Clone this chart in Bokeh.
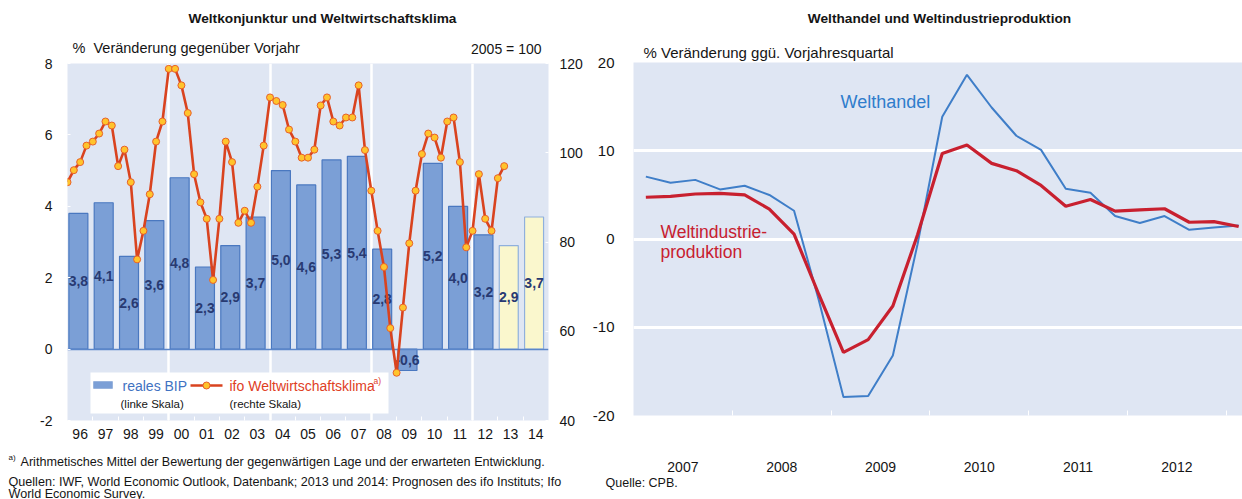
from bokeh.plotting import figure
from bokeh.models import Range1d, LinearAxis, FixedTicker, Label, BoxAnnotation, ColumnDataSource, Title
from bokeh.layouts import row, column
from bokeh.core.properties import value
from bokeh.embed import file_html
from bokeh.resources import INLINE

FONT = "Liberation Sans"
BG = "#dfe6f3"
TXT = "#151515"

# ---------------- data: left chart ----------------
jahre = ["96", "97", "98", "99", "00", "01", "02", "03", "04", "05",
         "06", "07", "08", "09", "10", "11", "12", "13", "14"]
bip = [3.8, 4.1, 2.6, 3.6, 4.8, 2.3, 2.9, 3.7, 5.0, 4.6,
       5.3, 5.4, 2.8, -0.6, 5.2, 4.0, 3.2, 2.9, 3.7]
prognose = [False] * 17 + [True, True]
# ifo Weltwirtschaftsklima, quarterly 1996Q1 .. 2013Q2 (2005 = 100)
ifo_klima = [93.4, 96.1, 97.9, 101.6, 102.5, 104.3, 107.0, 106.1,
             97.0, 100.7, 93.4, 76.1, 82.5, 90.7, 102.5, 107.0,
             118.8, 118.8, 115.1, 108.9, 95.2, 88.9, 85.2, 71.5,
             85.2, 102.5, 97.9, 84.3, 87.0, 84.3, 92.4, 101.6,
             112.4, 111.6, 110.7, 105.2, 102.5, 98.9, 98.9, 100.7,
             110.6, 112.4, 107.0, 106.1, 107.9, 107.9, 115.1, 100.6,
             91.5, 82.5, 74.4, 60.7, 50.7, 65.3, 79.7, 91.5,
             99.7, 104.3, 103.4, 98.9, 107.0, 107.9, 97.9, 78.8,
             82.5, 95.2, 85.2, 82.5, 94.3, 97.0]

# ---------------- data: right chart ----------------
quartale = ["2007Q1", "2007Q2", "2007Q3", "2007Q4", "2008Q1", "2008Q2", "2008Q3", "2008Q4",
            "2009Q1", "2009Q2", "2009Q3", "2009Q4", "2010Q1", "2010Q2", "2010Q3", "2010Q4",
            "2011Q1", "2011Q2", "2011Q3", "2011Q4", "2012Q1", "2012Q2", "2012Q3", "2012Q4",
            "2013Q1"]
welthandel = [7.07, 6.37, 6.70, 5.62, 6.03, 4.99, 3.20, -6.9,
              -17.9, -17.8, -13.2, -0.6, 13.85, 18.6, 14.9, 11.7,
              10.1, 5.70, 5.25, 2.60, 1.82, 2.60, 1.04, 1.30,
              1.53]
industrie = [4.73, 4.84, 5.10, 5.17, 4.99, 3.39, 0.56, -6.26,
             -12.85, -11.4, -7.6, 0.48, 9.69, 10.65, 8.57, 7.74,
             6.07, 3.72, 4.47, 3.16, 3.30, 3.43, 1.90, 1.97,
             1.42]
jahre_r = ["2007", "2008", "2009", "2010", "2011", "2012"]

# ---------------- page geometry ----------------
W1 = 588
W2 = 1242 - W1
HEAD1, HEAD2 = 56, 36
CH1_BOTTOM = 447      # left chart figure ends here (page y)
CH2_BOTTOM = 474      # right chart figure ends here (page y)
PAGE_H = 499


def text_fig(w, h):
    f = figure(width=w, height=h, x_range=Range1d(0, w), y_range=Range1d(h, 0),
               output_backend="svg", toolbar_location=None,
               x_axis_location=None, y_axis_location=None,
               min_border=0, min_border_left=0, min_border_right=0,
               min_border_top=0, min_border_bottom=0,
               background_fill_color="white", border_fill_color="white",
               outline_line_color=None)
    f.frame_align = False
    f.xgrid.visible = False
    f.ygrid.visible = False
    return f


def put(f, text, x, y, size, align="left", color=TXT, style="normal"):
    f.add_layout(Label(x=x, y=y, text=text, text_align=align, text_baseline="middle",
                       text_font=FONT, text_font_size=size, text_color=color,
                       text_font_style=style))


# ======================= LEFT CHART =======================
n = len(jahre)
p1 = figure(width=W1, height=CH1_BOTTOM - HEAD1, x_range=Range1d(0, n), y_range=Range1d(-2, 8),
            output_backend="svg", toolbar_location=None,
            min_border_left=67, min_border_right=W1 - 548, min_border_top=63 - HEAD1,
            min_border_bottom=CH1_BOTTOM - 420,
            background_fill_color=BG, border_fill_color="white", outline_line_color=None)
p1.frame_align = False
p1.extra_y_ranges = {"ifo": Range1d(40, 120)}

FX1 = 481.0 / n  # px per category


def X1(px):
    return (px - 67) / FX1


def Y1(py):
    return 8 - (py - 63) / 35.7


p1.xgrid.ticker = FixedTicker(ticks=[4, 8, 12, 16])
p1.xgrid.grid_line_color = "white"
p1.xgrid.grid_line_width = 2.5
p1.ygrid.grid_line_color = None

# legend background
p1.add_layout(BoxAnnotation(left=X1(90), right=X1(388), top=Y1(372), bottom=Y1(413),
                            fill_color="white", fill_alpha=1, line_color=None, level="underlay"))

src = ColumnDataSource(dict(
    x=[i + 0.43 for i in range(n)],
    top=bip,
    fill=["#faf7cd" if f else "#7b9fd6" for f in prognose],
    line=["#8fb0dd" if f else "#4a78c0" for f in prognose],
    lbl=[f"{v:.1f}".replace(".", ",") for v in bip],
    ly=[v / 2 for v in bip],
))
p1.vbar(x="x", top="top", bottom=0, width=0.75, fill_color="fill", line_color="line",
        line_width=1.2, source=src)
p1.hspan(y=[0], line_color="#5b86c9", line_width=1.6)
p1.text(x="x", y="ly", text="lbl", source=src, text_align="center", text_baseline="middle",
        text_font=value(FONT), text_font_style="bold", text_font_size="14px", text_color="#283a72")

ifo_x = [i / 4 for i in range(len(ifo_klima))]
RED = "#d9431f"
p1.line(ifo_x, ifo_klima, y_range_name="ifo", line_color=RED, line_width=2.6)
p1.scatter(ifo_x, ifo_klima, y_range_name="ifo", size=7, fill_color="#ffc42c",
           line_color="#e8602a", line_width=1)

ax = p1.xaxis[0]
ax.ticker = FixedTicker(ticks=[i + 0.5 for i in range(n)], minor_ticks=list(range(1, n)))
ax.major_label_overrides = {i + 0.5: j for i, j in enumerate(jahre)}
ax.major_tick_line_color = None
ax.minor_tick_line_color = "white"
ax.minor_tick_in = 4
ax.minor_tick_out = 0
ax.major_label_standoff = 2

ay = p1.yaxis[0]
ay.ticker = FixedTicker(ticks=[-2, 0, 2, 4, 6, 8])
ay.major_label_overrides = {-2: "-2"}
ay.minor_tick_line_color = None
ay.major_label_standoff = 15

ay2 = LinearAxis(y_range_name="ifo", ticker=FixedTicker(ticks=[40, 60, 80, 100, 120]))
p1.add_layout(ay2, "right")
ay2.minor_tick_line_color = None
ay2.major_label_standoff = 11

for a in (ax, ay, ay2):
    a.major_label_text_font = FONT
    a.major_label_text_font_size = "14px"
    a.major_label_text_color = TXT
    a.axis_line_color = None
for a in (ay, ay2):
    a.major_tick_line_color = "white"
    a.major_tick_in = 3
    a.major_tick_out = 0

# legend items (inside frame)
p1.add_layout(BoxAnnotation(left=X1(93), right=X1(112), top=Y1(381), bottom=Y1(388),
                            fill_color="#7b9fd6", fill_alpha=1, line_color="#4a78c0", line_width=1))


def lab1(text, px, py, size, align="left", color=TXT, style="normal"):
    p1.add_layout(Label(x=X1(px), y=Y1(py), text=text, text_align=align, text_baseline="middle",
                        text_font=FONT, text_font_size=size, text_color=color,
                        text_font_style=style))


lab1("reales BIP", 122, 385, "14px", color="#3f72c2")
lab1("(linke Skala)", 120, 403, "11.5px")
p1.line([X1(190), X1(222)], [Y1(385), Y1(385)], line_color=RED, line_width=2.6)
p1.scatter([X1(206)], [Y1(385)], size=7, fill_color="#ffc42c", line_color="#e8602a", line_width=1)
lab1("ifo Weltwirtschaftsklima", 229, 385, "14px", color="#e0401f")
lab1("a)", 373, 380, "8.5px", color="#e0401f")
lab1("(rechte Skala)", 229, 403, "11.5px")

# header / footer (left)
hL = text_fig(W1, HEAD1)
put(hL, "Weltkonjunktur und Weltwirtschaftsklima", 322, 18, "13.7px", "center", style="bold")
put(hL, "%\u00a0 Veränderung gegenüber Vorjahr", 72, 47, "14.5px")
put(hL, "2005 = 100", 541, 48, "14px", "right")

fL = text_fig(W1, PAGE_H - CH1_BOTTOM)
put(fL, "a)", 8, 457 - CH1_BOTTOM, "8px")
put(fL, "Arithmetisches Mittel der Bewertung der gegenwärtigen Lage und der erwarteten Entwicklung.",
    20, 461 - CH1_BOTTOM, "12.6px")
put(fL, "Quellen: IWF, World Economic Outlook, Datenbank; 2013 und 2014: Prognosen des ifo Instituts; Ifo",
    8, 481 - CH1_BOTTOM, "12.6px")
put(fL, "World Economic Survey.", 8, 493 - CH1_BOTTOM, "12.6px")

# ======================= RIGHT CHART =======================
PX_YEAR = 98.8
BL2 = 633 - W1
x0, x1 = 2007.0, 2007.0 + (W2 - BL2) / PX_YEAR
p2 = figure(width=W2, height=CH2_BOTTOM - HEAD2, x_range=Range1d(x0, x1), y_range=Range1d(-20, 20),
            output_backend="svg", toolbar_location=None,
            min_border_left=BL2, min_border_right=0, min_border_top=62 - HEAD2,
            min_border_bottom=CH2_BOTTOM - 420,
            background_fill_color=BG, border_fill_color="white", outline_line_color=None)
p2.frame_align = False
p2.add_layout(Title(text="% Veränderung ggü. Vorjahresquartal", align="left", offset=10,
                    standoff=3, text_font=FONT, text_font_size="15px",
                    text_font_style="normal", text_color=TXT), "above")


def X2(px):
    return 2007 + (px - 633) / PX_YEAR


def Y2(py):
    return 20 - (py - 62) / 8.95


p2.xgrid.grid_line_color = None
p2.ygrid.ticker = FixedTicker(ticks=[-10, 0, 10])
p2.ygrid.grid_line_color = "white"
p2.ygrid.grid_line_width = 3

qx = [int(q[:4]) + (int(q[5]) - 0.5) / 4 for q in quartale]
p2.line(qx, welthandel, line_color="#3f7ec8", line_width=2)
p2.line(qx, industrie, line_color="#c8202f", line_width=3.2)

bx = p2.xaxis[0]
bx.ticker = FixedTicker(ticks=[int(j) + 0.5 for j in jahre_r],
                        minor_ticks=[int(j) + 1 for j in jahre_r])
bx.major_label_overrides = {int(j) + 0.5: j for j in jahre_r}
bx.major_tick_line_color = None
bx.minor_tick_line_color = "white"
bx.minor_tick_in = 5
bx.minor_tick_out = 0
bx.major_label_standoff = 40
bx.major_label_text_font_size = "14px"

by = p2.yaxis[0]
by.ticker = FixedTicker(ticks=[-20, -10, 0, 10, 20])
by.major_label_overrides = {-20: "-20", -10: "-10"}
by.major_tick_line_color = None
by.minor_tick_line_color = None
by.major_label_standoff = 13
by.major_label_text_font_size = "15px"

for a in (bx, by):
    a.major_label_text_font = FONT
    a.major_label_text_color = TXT
    a.axis_line_color = None


def lab2(text, px, py, size, align="left", color=TXT, style="normal"):
    p2.add_layout(Label(x=X2(px), y=Y2(py), text=text, text_align=align, text_baseline="middle",
                        text_font=FONT, text_font_size=size, text_color=color,
                        text_font_style=style))


lab2("Welthandel", 840, 102, "18px", color="#2f7dcc")
lab2("Weltindustrie-", 660, 234, "17.5px", color="#c8202f")
lab2("produktion", 660, 254, "17.5px", color="#c8202f")

hR = text_fig(W2, HEAD2)
put(hR, "Welthandel und Weltindustrieproduktion", 939 - W1, 18, "13.7px", "center", style="bold")

fR = text_fig(W2, PAGE_H - CH2_BOTTOM)
put(fR, "Quelle: CPB.", 605 - W1, 481 - CH2_BOTTOM + 1, "12.5px")

layout = row(column(hL, p1, fL), column(hR, p2, fR))
open("out.html", "w").write(file_html(layout, INLINE))
